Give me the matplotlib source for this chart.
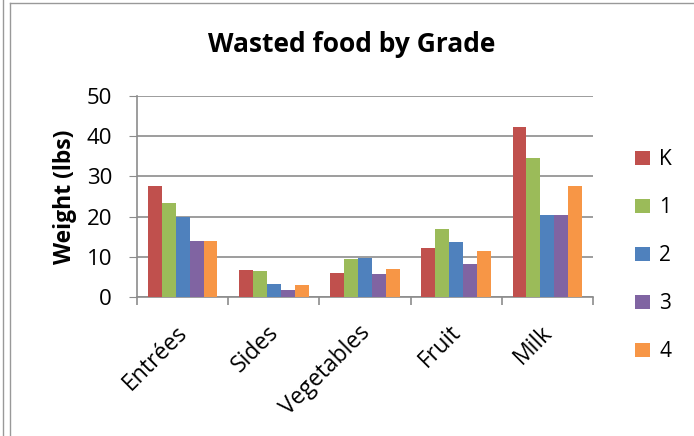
import matplotlib.pyplot as plt
import matplotlib.transforms as mtransforms
import numpy as np

categories = ['Entrées', 'Sides', 'Vegetables', 'Fruit', 'Milk']
grades = ['K', '1', '2', '3', '4']
grade_k = [27.5, 6.7, 6.0, 12.2, 42.4]
grade_1 = [23.5, 6.4, 9.4, 16.8, 34.7]
grade_2 = [20.0, 3.2, 9.6, 13.7, 20.3]
grade_3 = [14.0, 1.8, 5.7, 8.2, 20.3]
grade_4 = [14.0, 3.0, 7.0, 11.4, 27.7]
colors = ['#C0504D', '#9BBB59', '#4F81BD', '#8064A2', '#F79646']

plt.rcParams['font.family'] = ['Open Sans', 'DejaVu Sans']

fig = plt.figure(figsize=(6.94, 4.36), dpi=100)
ax = fig.add_axes([137 / 694, 1 - 297 / 436, (593 - 137) / 694, (297 - 96) / 436])

x = np.arange(len(categories))
width = 0.153
series = [grade_k, grade_1, grade_2, grade_3, grade_4]
for i, (vals, name) in enumerate(zip(series, grades)):
    ax.bar(x + (i - 2) * width, vals, width, color=colors[i], label=name, zorder=3)

ax.set_xlim(-0.5, len(categories) - 0.5)
ax.set_ylim(0, 50)
ax.set_yticks(range(0, 51, 10))
ax.yaxis.grid(True, color='#8c8c8c', linewidth=1.2, zorder=0)
ax.tick_params(axis='y', length=6, color='#8c8c8c', labelsize=16, pad=12)

ax.set_xticks(x)
ax.set_xticklabels(categories, rotation=45, ha='right', rotation_mode='anchor', fontsize=16.5)
ax.tick_params(axis='x', which='major', length=0, pad=17)
ax.set_xticks(np.arange(-0.5, len(categories)), minor=True)
ax.tick_params(axis='x', which='minor', length=6, color='#8c8c8c', width=1.2)
shift = mtransforms.ScaledTranslation(-7 / 100, 0, fig.dpi_scale_trans)
for lbl in ax.get_xticklabels():
    lbl.set_transform(lbl.get_transform() + shift)

for side in ['top', 'right']:
    ax.spines[side].set_visible(False)
for side in ['left', 'bottom']:
    ax.spines[side].set_color('#8c8c8c')
    ax.spines[side].set_linewidth(1.2)

ax.set_ylabel('Weight (lbs)', fontsize=16.5, fontweight='bold')
ax.yaxis.set_label_coords(-0.131, 0.5)
fig.text(352 / 694, 1 - 45 / 436, 'Wasted food by Grade', fontsize=19,
         fontweight='bold', ha='center', va='center')

ax.legend(loc='center left', bbox_to_anchor=(1.074, 0.205), frameon=False,
          fontsize=15, labelspacing=1.3, handlelength=0.7, handleheight=0.7,
          handletextpad=0.45, borderaxespad=0)

# chart frame
fig.add_artist(plt.Line2D([3 / 694, 3 / 694], [0, 1], color='#999999', linewidth=1))
fig.add_artist(plt.Line2D([10 / 694, 10 / 694], [0, 1 - 3 / 436], color='#999999', linewidth=1))
fig.add_artist(plt.Line2D([10 / 694, 1], [1 - 3 / 436, 1 - 3 / 436], color='#999999', linewidth=1))

fig.savefig('out.png', dpi=100)
